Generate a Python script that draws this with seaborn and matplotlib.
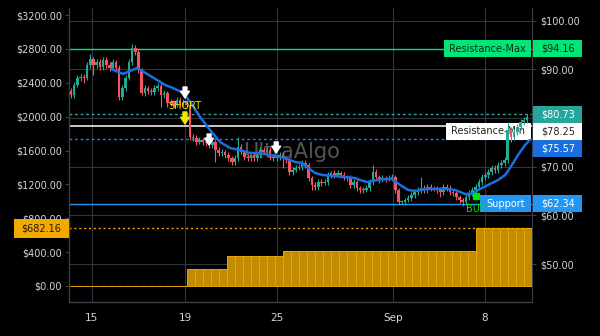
import matplotlib
matplotlib.use("Agg")
import matplotlib.pyplot as plt
import seaborn as sns
import numpy as np
import pandas as pd
from matplotlib.patches import Rectangle
from matplotlib.transforms import IdentityTransform
from matplotlib.ticker import FuncFormatter

# ---------------- data ----------------
first_open = 2300
closes = [
    2256, 2374, 2456, 2468, 2456, 2610, 2681, 2610, 2645, 2586, 2669, 2610, 2575, 2645, 2575, 2232,
    2338, 2456, 2645, 2811, 2764, 2551, 2280, 2338, 2303, 2291, 2338, 2362, 2256, 2279, 2161,
    2173, 2138, 2197, 2161, 2173, 2138, 1760, 1748, 1701, 1724, 1701, 1689, 1665, 1701, 1606, 1571,
    1583, 1547, 1512, 1464, 1512, 1642, 1583, 1523, 1512, 1547, 1512, 1547,
    1606, 1583, 1606, 1523, 1512, 1523, 1547, 1512, 1488, 1346, 1370, 1394, 1405, 1453, 1429, 1275,
    1193, 1169, 1228, 1216, 1228, 1311, 1335, 1311, 1335, 1311, 1287, 1275, 1193,
    1228, 1157, 1134, 1134, 1157, 1228, 1346, 1287, 1252, 1275, 1264, 1275, 1287, 1134, 992, 992,
    1016, 1039, 1075, 1110, 1134, 1157, 1134, 1169, 1157, 1146, 1134, 1110, 1169,
    1157, 1110, 1098, 1051, 1016, 992, 1051, 1098, 1134, 1169, 1228, 1287, 1311, 1346, 1394, 1370,
    1429, 1453, 1488, 1842, 1760, 1819, 1878, 1937, 1960, 1996,
]
upper_wick = [
    40, 30, 30, 40, 30, 40, 60, 20, 30, 30, 40, 30, 30, 40, 20, 30, 30, 30, 40, 47, 30, 30, 20, 40, 20, 40, 30, 30, 30, 30, 20,
    30, 20, 40, 30, 30, 20, 20, 30, 30, 30, 20, 30, 30, 30, 20, 30, 30, 20, 30, 20, 30, 118, 30, 20, 30, 30, 20, 40,
    40, 30, 30, 30, 30, 30, 30, 30, 20, 30, 30, 30, 30, 40, 30, 20, 20, 30, 30, 30, 30, 30, 20, 30, 30, 20, 30, 20, 40,
    30, 20, 20, 30, 30, 30, 83, 30, 20, 30, 20, 30, 30, 20, 20, 20, 20, 30, 30, 30, 30, 130, 30, 40, 30, 20, 30, 30, 40,
    30, 30, 20, 30, 20, 20, 30, 30, 30, 40, 30, 30, 40, 30, 30, 30, 30, 30, 30, 95, 30, 30, 30, 30, 30, 30,
]
lower_wick = [
    30, 30, 20, 40, 60, 20, 30, 120, 30, 40, 30, 30, 40, 30, 40, 30, 30, 30, 20, 30, 40, 40, 30, 40, 30, 30, 30, 30, 140, 30, 50,
    40, 30, 30, 40, 30, 30, 30, 30, 30, 20, 30, 30, 40, 30, 142, 30, 30, 30, 30, 40, 30, 30, 30, 30, 40, 30, 30, 30,
    30, 30, 30, 30, 30, 30, 30, 118, 30, 30, 30, 20, 30, 30, 30, 40, 59, 30, 30, 30, 20, 30, 30, 30, 20, 30, 30, 30, 30,
    30, 30, 30, 30, 20, 30, 30, 30, 30, 20, 30, 20, 30, 30, 35, 30, 30, 20, 30, 30, 30, 30, 30, 30, 30, 30, 30, 60, 30,
    30, 40, 30, 40, 30, 47, 30, 30, 30, 30, 30, 30, 30, 30, 30, 30, 30, 30, 30, 30, 59, 30, 30, 30, 30, 30,
]

# smoothed trend line (bar index, price)
trend_x = [12.5, 16.2, 20.6, 23.7, 26.8, 29.3, 31.8, 34.9, 37.1, 40.2, 43.3, 46.4, 49.5, 52.6, 55.7,
           58.9, 63.5, 66.6, 69.8, 71.9, 73.8, 76.0, 78.2, 82.2, 85.3, 88.4, 90.0, 92.2, 94.1, 97.2,
           100.0, 102.5, 105.0, 107.1, 110.9, 114.0, 117.1, 119.6, 122.7, 124.9, 126.8, 129.9, 133.0,
           135.2, 137.3, 139.2, 141.4, 142.9]
trend_y = [2563, 2504, 2575, 2504, 2433, 2374, 2338, 2279, 2173, 1996, 1842, 1701, 1630, 1606, 1571,
           1571, 1535, 1512, 1464, 1453, 1394, 1335, 1311, 1299, 1287, 1275, 1252, 1228, 1240, 1264,
           1264, 1193, 1134, 1122, 1146, 1146, 1146, 1134, 1087, 1087, 1134, 1193, 1252, 1311, 1429,
           1547, 1665, 1724]

# lower histogram (one value per bar block)
hist_values = [0, 0, 0, 0, 0, 0, 0, 0, 0, 0, 0, 0, 0, 0, 0,
               201, 201, 201, 201, 201,
               354, 354, 354, 354, 354, 354, 354,
               413, 413, 413, 413, 413, 413, 413, 413, 413, 413, 413, 413,
               413, 413, 413, 413, 413, 413, 413, 413, 413, 413, 413, 413,
               682.16, 682.16, 682.16, 682.16, 682.16, 682.16, 682.16]
hist_level = 682.16

# horizontal levels (right-axis values)
level_values = [94.16, 80.73, 78.25, 75.57, 62.34]
level_names = ["Resistance-Max", "", "Resistance-Min", "", "Support"]

left_ticks = [0, 400, 800, 1200, 1600, 2000, 2400, 2800, 3200]
right_ticks = [50, 60, 70, 90, 100]
right_grid = [50, 60, 70, 80, 90, 100]
date_labels = ["15", "19", "25", "Sep", "8"]
date_pos = [6.5, 35.5, 64.2, 100.3, 128.9]

# signals
short_idx, short_price = 35.5, 2126
exit_arrows_idx = [35.5, 43.0, 63.9]
exit_arrows_price = [2350, 1795, 1701]
buy_idx, buy_price = 126.0, 1057

# ---------------- styles ----------------
BG = "black"
GRID = "#33343d"
SPINE = "#3c3d4a"
TXT = "#d1d4dc"
UP = "#22ab94"
DOWN = "#f7525f"
level_line_colors = ["#00e676", "#26a69a", "#ffffff", "#2979ff", "#2196f3"]
level_line_styles = ["-", (0, (2, 2)), "-", (0, (2, 2)), "-"]
box_colors = ["#00e676", "#26a69a", "#ffffff", "#1a6fe0", "#2196f3"]
box_text_colors = ["#0b2a18", "white", "#222222", "white", "white"]
inner_box_widths = [87, 0, 85, 0, 51]

sns.set_style("dark")
plt.rcParams["font.family"] = ["DejaVu Sans"]

W, H = 600, 336
fig = plt.figure(figsize=(6, 3.36), dpi=100, facecolor=BG)
ax = fig.add_axes([69 / W, 34 / H, 463 / W, 294 / H])
ax2 = ax.twinx()
ax.set_zorder(ax2.get_zorder() + 1)
ax.patch.set_visible(False)
ax2.patch.set_visible(True)
ax2.patch.set_facecolor(BG)

# ---- histogram (seaborn) ----
nb = len(hist_values)
edges = [-1.4 + 2.5 * k for k in range(nb + 1)]
hist_df = pd.DataFrame({"pos": [(edges[k] + edges[k + 1]) / 2 for k in range(nb)],
                        "val": hist_values})
sns.histplot(data=hist_df, x="pos", weights="val", bins=edges, ax=ax, color="#c28b00",
             edgecolor="#e8a600", linewidth=0.7, alpha=1, zorder=2)
ax.axhline(hist_level, color="#f0a800", lw=1, ls=(0, (1.5, 2)), zorder=2.5)

ax.set_xlim(-0.62, 143.56)
ax.set_ylim(-189, 3283)
ax2.set_ylim(42.2, 102.57)

# ---- candles ----
n = len(closes)
xs = np.arange(n)
opens = [first_open] + closes[:-1]
highs = [max(o, c) + u for o, c, u in zip(opens, closes, upper_wick)]
lows = [min(o, c) - l for o, c, l in zip(opens, closes, lower_wick)]
cols = [UP if c >= o else DOWN for o, c in zip(opens, closes)]
ax.vlines(xs, lows, highs, colors=cols, lw=0.8, zorder=3)
bottoms = [min(o, c) for o, c in zip(opens, closes)]
heights = [max(abs(c - o), 12) for o, c in zip(opens, closes)]
ax.bar(xs, heights, bottom=bottoms, width=0.8, color=cols, linewidth=0, zorder=3.1)

# ---- trend line (seaborn) ----
sns.lineplot(x=trend_x, y=trend_y, ax=ax, color="#1a6fe0", lw=1.8, zorder=4)

# watermark
ax.text(68.8, 1583, "UltraAlgo", fontsize=15, color="#9a9a9a", alpha=0.55,
        ha="center", va="center", zorder=0.6)

# signals
arrow_kw = dict(arrowstyle="simple,head_width=0.9,head_length=0.7,tail_width=0.4",
                shrinkA=0, shrinkB=0, mutation_scale=7)
for xi, pi in zip(exit_arrows_idx, exit_arrows_price):
    ax.annotate("", xy=(xi, pi - 130), xytext=(xi, pi),
                arrowprops=dict(color="white", **arrow_kw), zorder=6)
ax.annotate("", xy=(short_idx, short_price - 213), xytext=(short_idx, short_price - 71),
            arrowprops=dict(color="#f5e600", **arrow_kw), zorder=6)
ax.text(short_idx, short_price, "SHORT", color="#f5e600", fontsize=7, ha="center",
        va="center", zorder=6)
ax.plot([buy_idx], [buy_price], marker="s", ms=4, color="#00e600", zorder=6, ls="none")
ax.text(buy_idx, buy_price - 150, "BUY", color="#00e600", fontsize=7, ha="center",
        va="center", zorder=6)

# ---- levels on right axis ----
for v, c, ls in zip(level_values, level_line_colors, level_line_styles):
    ax2.axhline(v, color=c, lw=1.1 if c == "#ffffff" else 1.0, ls=ls, zorder=1)

# grid (right-axis based horizontal grid + date verticals)
for g in right_grid:
    ax2.axhline(g, color=GRID, lw=0.8, zorder=0.4)
for p in date_pos:
    ax2.axvline(p, color=GRID, lw=0.8, zorder=0.5)

# axes styling
ax2.set_yticks(right_ticks)
ax.set_yticks(left_ticks)
ax.yaxis.set_major_formatter(FuncFormatter(lambda v, p: f"${v:.2f}"))
ax2.yaxis.set_major_formatter(FuncFormatter(lambda v, p: f"${v:.2f}"))
ax.set_xticks(date_pos)
ax.set_xticklabels(date_labels)
ax.tick_params(axis="y", colors=SPINE, labelcolor=TXT, labelsize=7, length=3, pad=2)
ax.tick_params(axis="x", length=0, pad=8, labelsize=7.5, labelcolor=TXT)
ax2.tick_params(axis="y", colors=SPINE, labelcolor=TXT, labelsize=7, length=3, pad=3)
ax.set_xlabel("")
ax.set_ylabel("")
ax2.set_ylabel("")
ax.grid(False)
ax2.grid(False)
for s in ["top", "right"]:
    ax.spines[s].set_visible(False)
for s in ["top", "left", "bottom"]:
    ax2.spines[s].set_visible(False)
for s in ["left", "bottom"]:
    ax.spines[s].set_color(SPINE)
    ax.spines[s].set_linewidth(1)
ax2.spines["right"].set_color(SPINE)

# ---- label boxes ----
BOX_H = 17
ident = IdentityTransform()
prev_bottom = None
x_right_in = 531
x_val0, x_val1 = 533, 582
for v, name, bc, tc, wi in zip(level_values, level_names, box_colors, box_text_colors, inner_box_widths):
    yd = ax2.transData.transform((0, v))[1]
    yc = yd
    if prev_bottom is not None and yc + BOX_H / 2 > prev_bottom:
        yc = prev_bottom - BOX_H / 2
    prev_bottom = yc - BOX_H / 2
    fig.add_artist(Rectangle((x_val0, yc - BOX_H / 2), x_val1 - x_val0, BOX_H,
                             transform=ident, facecolor=bc, edgecolor="none", zorder=10))
    fig.text((x_val0 + x_val1) / 2 + 1, yc, f"${v:.2f}", transform=ident, color=tc,
             fontsize=7, ha="center", va="center", zorder=11)
    if name:
        r = Rectangle((x_right_in - wi, yc - BOX_H / 2), wi, BOX_H, transform=ident,
                      facecolor=bc, edgecolor="none", zorder=5)
        ax2.add_artist(r)
        ax2.text(x_right_in - wi / 2, yc, name, transform=ident, color=tc, fontsize=7,
                 ha="center", va="center", zorder=6)

yd = ax.transData.transform((0, hist_level))[1]
fig.add_artist(Rectangle((14, yd - 9.5), 55, 19, transform=ident, facecolor="#f2a900",
                         edgecolor="none", zorder=10))
fig.text(41.5, yd, f"${hist_level:.2f}", transform=ident, color="#1a1a1a", fontsize=7,
         ha="center", va="center", zorder=11)

fig.savefig("out.png", dpi=100, facecolor=BG)
